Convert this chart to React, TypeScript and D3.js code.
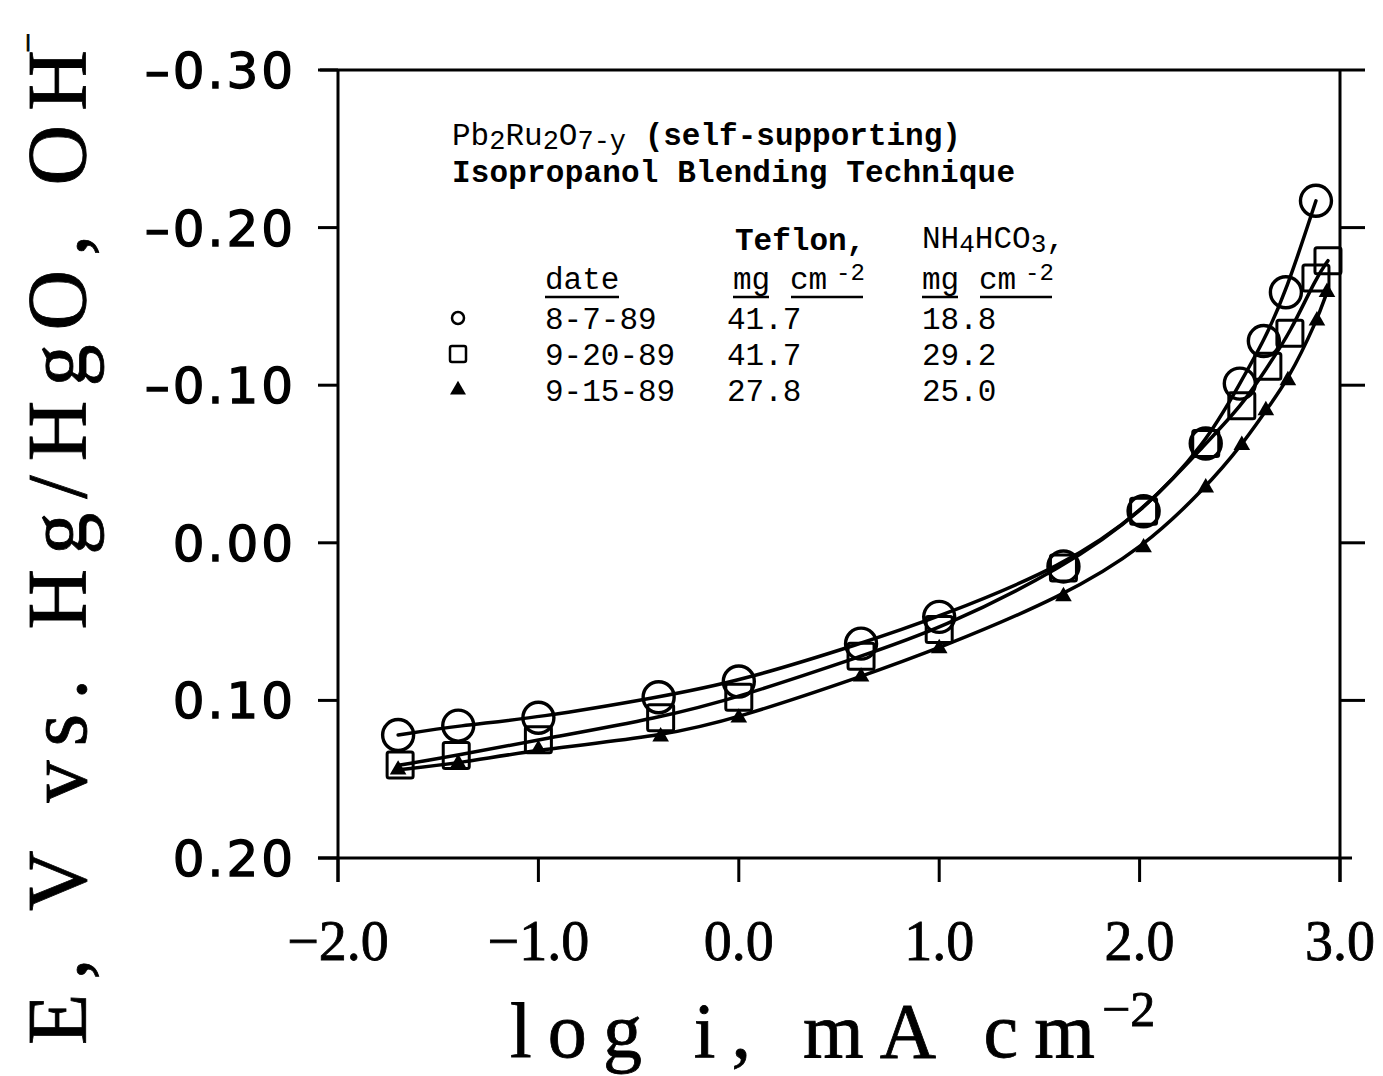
import React from "react";
import * as d3 from "d3";

// ---- data ----
const xTickValues = [-2, -1, 0, 1, 2, 3];
const xTickLabels = ["−2.0", "−1.0", "0.0", "1.0", "2.0", "3.0"];
const yTickValues = [-0.3, -0.2, -0.1, 0.0, 0.1, 0.2];
const yTickLabels = ["–0.30", "–0.20", "–0.10", "0.00", "0.10", "0.20"];
const yRightTickValues = [-0.3, -0.2, -0.1, 0.0, 0.1, 0.2];

const circleX = [-1.7, -1.4, -1.0, -0.4, 0.0, 0.61, 1.0, 1.62, 2.02, 2.33, 2.5, 2.62, 2.73, 2.88];
const circleY = [0.122, 0.116, 0.111, 0.098, 0.088, 0.064, 0.047, 0.015, -0.02, -0.063, -0.101, -0.128, -0.159, -0.217];

const squareX = [-1.69, -1.41, -1.0, -0.39, 0.0, 0.61, 1.0, 1.62, 2.02, 2.33, 2.51, 2.64, 2.75, 2.88, 2.94];
const squareY = [0.141, 0.135, 0.125, 0.111, 0.098, 0.072, 0.055, 0.016, -0.02, -0.063, -0.087, -0.112, -0.133, -0.168, -0.179];

const triangleX = [-1.7, -1.4, -1.0, -0.39, 0.0, 0.61, 1.0, 1.62, 2.02, 2.33, 2.51, 2.63, 2.74, 2.885, 2.935];
const triangleY = [0.144, 0.14, 0.131, 0.123, 0.111, 0.085, 0.067, 0.034, 0.003, -0.035, -0.062, -0.084, -0.103, -0.141, -0.159];

const legendSymbols = ["circle", "square", "triangle"];
const legendDates = ["8-7-89", "9-20-89", "9-15-89"];
const legendTeflon = ["41.7", "41.7", "27.8"];
const legendNH4 = ["18.8", "29.2", "25.0"];

// ---- layout ----
const W = 1383;
const H = 1076;
const x = d3.scaleLinear().domain([-2, 3]).range([338, 1340]);
const y = d3.scaleLinear().domain([-0.3, 0.2]).range([70, 858]);

const mono = "'Liberation Mono', 'DejaVu Sans Mono', monospace";
const serif = "'Liberation Serif', 'DejaVu Serif', serif";
const sans = "'DejaVu Sans', sans-serif";

const zip = (xs: number[], ys: number[]) => xs.map((v, i) => [v, ys[i]] as [number, number]);

const lineGen = d3
  .line<[number, number]>()
  .x((d) => x(d[0]))
  .y((d) => y(d[1]))
  .curve(d3.curveBasis);

const triPath = d3.symbol().type(d3.symbolTriangle).size(120)() as string;
const triPathSmall = d3.symbol().type(d3.symbolTriangle).size(110)() as string;

function Marker({ kind, cx, cy, legend }: { kind: string; cx: number; cy: number; legend?: boolean }) {
  if (kind === "circle") {
    return <circle cx={cx} cy={cy} r={legend ? 6 : 15.5} fill="none" stroke="#000" strokeWidth={legend ? 2.5 : 3.4} />;
  }
  if (kind === "square") {
    const s = legend ? 16 : 26;
    return <rect x={cx - s / 2} y={cy - s / 2} width={s} height={s} rx={2} fill="none" stroke="#000" strokeWidth={legend ? 2.5 : 3} />;
  }
  return <path d={legend ? triPathSmall : triPath} transform={`translate(${cx},${cy})`} fill="#000" />;
}

export default function App() {
  const circles = zip(circleX, circleY);
  const squares = zip(squareX, squareY);
  const triangles = zip(triangleX, triangleY);

  const rowY = [318, 354, 390];

  return (
    <svg width={W} height={H} style={{ position: "absolute", left: 0, top: 0, background: "#fff" }}>
      <rect x={0} y={0} width={W} height={H} fill="#fff" />

      {/* frame */}
      <g stroke="#000" strokeWidth={3} fill="none">
        <line x1={320} y1={y(-0.3)} x2={1365} y2={y(-0.3)} />
        <line x1={x(-2)} y1={y(-0.3)} x2={x(-2)} y2={y(0.2) + 24} />
        <line x1={x(3)} y1={y(-0.3)} x2={x(3)} y2={y(0.2) + 24} />
        <line x1={318} y1={y(0.2)} x2={1352} y2={y(0.2)} />
        {yTickValues.map((v) => (
          <line key={"yl" + v} x1={x(-2) - 20} y1={y(v)} x2={x(-2)} y2={y(v)} />
        ))}
        {yRightTickValues.slice(1, 5).map((v) => (
          <line key={"yr" + v} x1={x(3)} y1={y(v)} x2={x(3) + 25} y2={y(v)} />
        ))}
        {xTickValues.map((v) => (
          <line key={"xb" + v} x1={x(v)} y1={y(0.2)} x2={x(v)} y2={y(0.2) + 24} />
        ))}
      </g>

      {/* y tick labels */}
      <g fontFamily={sans} fontSize={50} fill="#000" stroke="#000" strokeWidth={1.3} textAnchor="end" letterSpacing={3}>
        {yTickValues.map((v, i) => (
          <text key={"yt" + v} x={x(-2) - 42} y={y(v) + 18}>
            {yTickLabels[i]}
          </text>
        ))}
      </g>

      {/* x tick labels */}
      <g fontFamily={serif} fontSize={56} fill="#000" stroke="#000" strokeWidth={0.8} textAnchor="middle">
        {xTickValues.map((v, i) => (
          <text key={"xt" + v} x={x(v)} y={960}>
            {xTickLabels[i]}
          </text>
        ))}
      </g>

      {/* x axis title */}
      <g fill="#000" stroke="#000" strokeWidth={0.8} fontFamily={serif}>
        <text x={510} y={1057} fontSize={78} textLength={585} lengthAdjust="spacing">
          log i, mA cm
        </text>
        <text x={1102} y={1026} fontSize={50}>
          −2
        </text>
      </g>

      {/* y axis title */}
      <g transform="translate(86,1045) rotate(-90)" fill="#000" stroke="#000" strokeWidth={0.8} fontFamily={serif}>
        <text x={0} y={0} fontSize={84} textLength={995} lengthAdjust="spacing">
          E, V vs. Hg/HgO, OH
        </text>
        <text x={992} y={-46} fontSize={36}>
          −
        </text>
      </g>

      {/* curves */}
      <g fill="none" stroke="#000" strokeWidth={3.5} strokeLinejoin="round" strokeLinecap="round">
        <path d={lineGen(circles) as string} />
        <path d={lineGen(squares) as string} />
        <path d={lineGen(triangles) as string} />
      </g>

      {/* markers */}
      <g>
        {triangles.map((d, i) => (
          <Marker key={"t" + i} kind="triangle" cx={x(d[0])} cy={y(d[1])} />
        ))}
        {squares.map((d, i) => (
          <Marker key={"s" + i} kind="square" cx={x(d[0])} cy={y(d[1])} />
        ))}
        {circles.map((d, i) => (
          <Marker key={"c" + i} kind="circle" cx={x(d[0])} cy={y(d[1])} />
        ))}
      </g>

      {/* legend / annotation */}
      <g fontFamily={mono} fontSize={31} fill="#000">
        <text x={452} y={145}>
          <tspan>Pb</tspan>
          <tspan dy={4} fontSize={27}>2</tspan>
          <tspan dy={-4}>Ru</tspan>
          <tspan dy={4} fontSize={27}>2</tspan>
          <tspan dy={-4}>O</tspan>
          <tspan dy={4} fontSize={27}>7-y</tspan>
          <tspan dy={-4} fontWeight="bold"> (self-supporting)</tspan>
        </text>
        <text x={452} y={182} fontWeight="bold" textLength={563} lengthAdjust="spacing">
          Isopropanol Blending Technique
        </text>

        <text x={735} y={250} fontWeight="bold">Teflon,</text>
        <text x={922} y={248}>
          <tspan>NH</tspan>
          <tspan dy={4} fontSize={26}>4</tspan>
          <tspan dy={-4}>HCO</tspan>
          <tspan dy={4} fontSize={26}>3</tspan>
          <tspan dy={-4}>,</tspan>
        </text>

        <text x={545} y={289}>date</text>
        <text x={733} y={289}>mg</text>
        <text x={790} y={289}>cm</text>
        <text x={836} y={280} fontSize={24}>-2</text>
        <text x={922} y={289}>mg</text>
        <text x={979} y={289}>cm</text>
        <text x={1025} y={280} fontSize={24}>-2</text>

        {legendDates.map((d, i) => (
          <g key={"row" + i}>
            <text x={545} y={rowY[i] + 11}>{d}</text>
            <text x={727} y={rowY[i] + 11}>{legendTeflon[i]}</text>
            <text x={922} y={rowY[i] + 11}>{legendNH4[i]}</text>
          </g>
        ))}
      </g>
      <g stroke="#000" strokeWidth={2.5}>
        <line x1={545} y1={297} x2={619} y2={297} />
        <line x1={733} y1={297} x2={769} y2={297} />
        <line x1={791} y1={297} x2={863} y2={297} />
        <line x1={922} y1={297} x2={958} y2={297} />
        <line x1={980} y1={297} x2={1052} y2={297} />
      </g>
      {legendSymbols.map((k, i) => (
        <Marker key={"ls" + i} kind={k} cx={458} cy={rowY[i]} legend />
      ))}
    </svg>
  );
}
